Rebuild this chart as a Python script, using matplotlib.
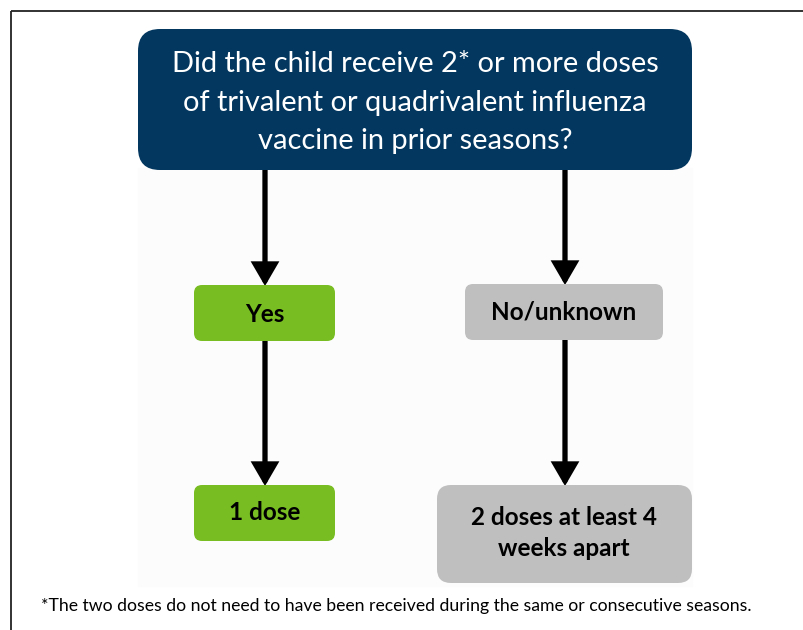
import matplotlib
matplotlib.use("Agg")
import matplotlib.pyplot as plt
from matplotlib.patches import FancyBboxPatch

# ---- content ----
question_lines = ["Did the child receive 2* or more doses",
                  "of trivalent or quadrivalent influenza",
                  "vaccine in prior seasons?"]
answers = ["Yes", "No/unknown"]
outcomes = ["1 dose", "2 doses at least 4\nweeks apart"]
footnote = "*The two doses do not need to have been received during the same or consecutive seasons."

NAVY = "#03375f"
GREEN = "#78bd21"
GREY = "#bfbfbf"
FONT = ["Lato", "DejaVu Sans"]

W, H = 804, 630
fig = plt.figure(figsize=(W / 100, H / 100), dpi=100)
ax = fig.add_axes([0, 0, 1, 1])
ax.set_xlim(0, W)
ax.set_ylim(H, 0)
ax.axis("off")

# frame lines (top and left)
ax.plot([11, W], [11, 11], color="#222222", lw=1.3, solid_capstyle="butt")
ax.plot([11, 11], [11, H], color="#222222", lw=1.3, solid_capstyle="butt")

# faint slide background
ax.add_patch(plt.Rectangle((138, 168), 554, 418, color="#fcfcfc", zorder=0))


def box(x0, y0, x1, y1, color, r):
    p = FancyBboxPatch((x0, y0), x1 - x0, y1 - y0,
                       boxstyle=f"round,pad=0,rounding_size={r}",
                       fc=color, ec="none", zorder=2)
    ax.add_patch(p)


def arrow(x, y0, y1):
    ax.annotate("", xy=(x, y1), xytext=(x, y0),
                arrowprops=dict(arrowstyle="-|>,head_length=0.55,head_width=0.32",
                                lw=3.8, color="black", shrinkA=0, shrinkB=0,
                                mutation_scale=22, joinstyle="miter"),
                zorder=1)


# question box
box(138, 29, 692, 170, NAVY, 22)
q_y = [64.5, 103.5, 141.5]
for line, y in zip(question_lines, q_y):
    ax.text(415, y, line, color="white", fontsize=20.9, family=FONT,
            ha="center", va="center", zorder=3)

# arrows
arrow(265, 170, 286)
arrow(565, 170, 285)
arrow(265, 341, 486)
arrow(565, 340, 486)

LBL = 17.5
# answer boxes
box(194, 285, 335, 341, GREEN, 8)
box(465, 284, 663, 340, GREY, 8)
ax.text(265, 314, answers[0], fontsize=LBL, weight="bold", family=FONT,
        ha="center", va="center", zorder=3)
ax.text(564, 312, answers[1], fontsize=LBL, weight="bold", family=FONT,
        ha="center", va="center", zorder=3)

# outcome boxes
box(194, 485, 335, 541, GREEN, 8)
box(437, 485, 692, 583, GREY, 14)
ax.text(265, 513, outcomes[0], fontsize=LBL, weight="bold", family=FONT,
        ha="center", va="center", zorder=3)
ax.text(564, 533, outcomes[1], fontsize=LBL, weight="bold", family=FONT,
        ha="center", va="center", linespacing=1.45, zorder=3)

# footnote
ax.text(41, 606, footnote, fontsize=12.7, family=FONT,
        ha="left", va="center", zorder=3)

fig.savefig("out.png", dpi=100)
